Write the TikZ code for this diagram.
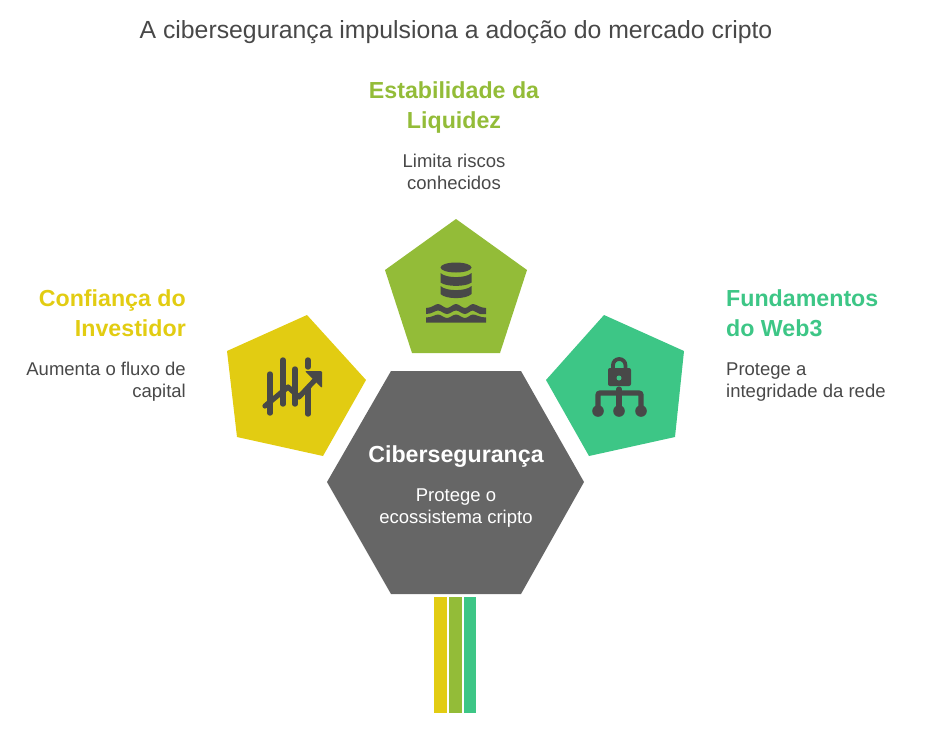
\documentclass[tikz,border=0pt]{standalone}
\usepackage{xcolor}
\usepackage{fontspec}
\setmainfont{Liberation Sans}
\usetikzlibrary{positioning}
\definecolor{yellowc}{HTML}{E2CC12}
\definecolor{greenc}{HTML}{93BC38}
\definecolor{tealc}{HTML}{3DC686}
\definecolor{greyc}{HTML}{666666}
\definecolor{darkc}{HTML}{484848}
\tikzset{
  head/.style={font=\bfseries\fontsize{23.2}{30}\selectfont,inner sep=0pt},
  desc/.style={font=\fontsize{18.5}{22}\selectfont,inner sep=0pt,text=darkc},
  bar/.style={line width=5.4pt,draw=darkc,line cap=round},
}
\begin{document}
\begin{tikzpicture}[x=1pt,y=-1pt]
        \useasboundingbox (0,0) rectangle (925,737);
        % shapes
        \fill[yellowc] (307,315) -- (366,380) -- (323,456) -- (237,437) -- (227,351) -- cycle;
        \fill[greenc] (456,219) -- (527,270) -- (500,353) -- (412,353) -- (385,270) -- cycle;
        \fill[tealc] (604,315) -- (684,351) -- (675,437) -- (589,456) -- (546,380) -- cycle;
        \fill[greyc] (391,371) -- (521,371) -- (584,482) -- (521,594) -- (391,594) -- (327,482) -- cycle;
        \fill[yellowc] (434,597) rectangle (447,713);
        \fill[greenc] (449,597) rectangle (462,713);
        \fill[tealc] (464,597) rectangle (476,713);
        % chart icon
        \begin{scope}[every path/.style={bar}]
          \path (270,374) -- (270,413);
          \path (283,360) -- (283,404);
          \path (295,369) -- (295,404);
          \path (308,360) -- (308,367);
          \path (308,388) -- (308,414);
        \end{scope}
        \draw[darkc,line width=5.2pt,line cap=round,line join=round] (265,406) -- (288,387) -- (299,397) -- (315,380);
        \fill[darkc,rounded corners=1pt] (305,371) -- (322,371) -- (322,388) -- cycle;
        % database icon
        \fill[darkc] (456,267.5) ellipse (15.5 and 5);
        \fill[darkc] (440.5,273) .. controls (446,278.5) and (466,278.5) .. (471.5,273) -- (471.5,282.5) .. controls (466,287) and (446,287) .. (440.5,282.5) -- cycle;
        \fill[darkc] (440.5,286) .. controls (446,291.5) and (466,291.5) .. (471.5,286) -- (471.5,294) .. controls (466,299.5) and (446,299.5) .. (440.5,294) -- cycle;
        \fill[darkc] (426,308) .. controls (432,308) and (435,304) .. (438,304) .. controls (441,304) and (444,308) .. (447,308) .. controls (450,308) and (453,304) .. (456,304) .. controls (459,304) and (462,308) .. (465,308) .. controls (468,308) and (470,304) .. (473,304) .. controls (476,304) and (480,308) .. (486,308) -- (486,314) -- (480,314) .. controls (477,314) and (476,310.5) .. (473,310.5) .. controls (470,310.5) and (468,314) .. (465,314) .. controls (462,314) and (459,310.5) .. (456,310.5) .. controls (453,310.5) and (450,314) .. (447,314) .. controls (444,314) and (441,310.5) .. (438,310.5) .. controls (435,310.5) and (432,314) .. (426,314) -- cycle;
        \fill[darkc] (426,317.5) .. controls (432,317.5) and (435,314.5) .. (438,314.5) .. controls (441,314.5) and (444,318) .. (447,318) .. controls (450,318) and (453,314.5) .. (456,314.5) .. controls (459,314.5) and (462,318) .. (465,318) .. controls (468,318) and (470,314.5) .. (473,314.5) .. controls (476,314.5) and (480,317.5) .. (486,317.5) -- (486,322.5) -- (426,322.5) -- cycle;
        % lock icon
        \draw[darkc,line width=3.8pt] (613,369) -- (613,365) arc[start angle=180,end angle=0,x radius=6.2,y radius=-6] -- (625.4,369);
        \fill[darkc,rounded corners=2pt] (608,368) rectangle (631,386);
        \fill[tealc] (619,378) circle (2.5);
        \draw[darkc,line width=5.2pt,line cap=round] (619,389) -- (619,411);
        \draw[darkc,line width=5.2pt,rounded corners=2pt] (598,411) -- (598,393) -- (641,393) -- (641,411);
        \fill[darkc] (598,411) circle (5.8);
        \fill[darkc] (619,411) circle (5.8);
        \fill[darkc] (641,411) circle (5.8);
        % texts
        \node[anchor=base,font=\fontsize{24.8}{28}\selectfont,text=darkc,inner sep=0pt] (title) at (456,38) {A cibersegurança impulsiona a adoção do mercado cripto};
        \node[head,text=greenc,align=center,anchor=base] (liqhead) at (454,128) {Estabilidade da\\Liquidez};
        \node[desc,align=center,anchor=base] (liqdesc) at (454,189) {Limita riscos\\conhecidos};
        \node[head,text=yellowc,align=right,anchor=base east] (invhead) at (186,336) {Confiança do\\Investidor};
        \node[desc,align=right,anchor=base east] (invdesc) at (186,397) {Aumenta o fluxo de\\capital};
        \node[head,text=tealc,align=left,anchor=base west] (webhead) at (726,336) {Fundamentos\\do Web3};
        \node[desc,align=left,anchor=base west] (webdesc) at (726,397) {Protege a\\integridade da rede};
        \node[head,text=white,anchor=base] (cyberhead) at (456,462) {Cibersegurança};
        \node[desc,text=white,align=center,anchor=base] (cyberdesc) at (456,523) {Protege o\\ecossistema cripto};
      \end{tikzpicture}
\end{document}
